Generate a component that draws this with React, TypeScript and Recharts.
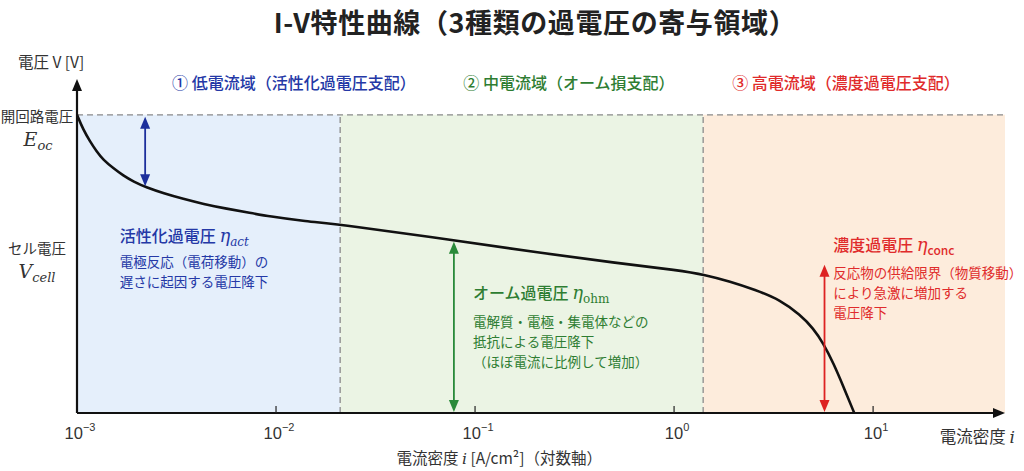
import React from "react";
import {
  LineChart,
  Line,
  XAxis,
  YAxis,
  ReferenceArea,
  ReferenceLine,
  ReferenceDot
} from "recharts";

// I-V特性曲線: 電流密度 [A/cm2] (対数) と セル電圧 [V, Eoc=1]
const currentDensity = [
  0.001, 0.001075, 0.001162, 0.001256, 0.001355, 0.001522, 0.00171, 0.00192, 0.00224, 0.00272,
  0.00342, 0.00431, 0.00565, 0.0074, 0.00933, 0.0132, 0.023, 0.0749, 0.212, 0.5, 1.072, 1.43,
  1.91, 2.55, 3.41, 4.3, 5.01, 5.62, 6.32, 7.1, 8.04
];
const cellVoltage = [
  1.0, 0.95, 0.911, 0.877, 0.849, 0.821, 0.796, 0.776, 0.756, 0.737,
  0.718, 0.701, 0.685, 0.671, 0.659, 0.645, 0.629, 0.581, 0.537, 0.504, 0.478, 0.463,
  0.441, 0.413, 0.38, 0.329, 0.284, 0.234, 0.167, 0.088, 0
];

const xTicks = [0.001, 0.01, 0.1, 1, 10];
const xDomain = [0.001, 46];
const yDomain = [0, 1.12];
const openCircuitVoltage = 1.0;
const cellVoltageLabelAt = 0.554;

// 領域の境界
const regionEdges = [0.001, 0.021, 1.4, 46];
const regionTitles = [
  "① 低電流域（活性化過電圧支配）",
  "② 中電流域（オーム損支配）",
  "③ 高電流域（濃度過電圧支配）"
];
const regionTitleAt = [0.0123, 0.296, 7.31];

// 過電圧の矢印 (i, 上端V, 下端V)
const arrowAt = [0.0022, 0.0783, 5.7];
const arrowTop = [0.993, 0.574, 0.497];
const arrowBottom = [0.76, 0.003, 0.003];

const BLUE = "#2438a6";
const GREEN = "#2e7d32";
const RED = "#e02b2b";
const regionFills = ["#e5effb", "#ebf4e4", "#fdecdc"];
const regionColors = [BLUE, GREEN, RED];
const arrowColors = ["#1c2f9c", "#2a8a3a", "#dd2222"];

const notes = [
  {
    i: 0.00164,
    v: 0.574,
    title: "活性化過電圧",
    sub: "act",
    subItalic: true,
    lines: ["電極反応（電荷移動）の", "遅さに起因する電圧降下"],
    firstGap: 25
  },
  {
    i: 0.0977,
    v: 0.383,
    title: "オーム過電圧",
    sub: "ohm",
    subItalic: false,
    lines: ["電解質・電極・集電体などの", "抵抗による電圧降下", "（ほぼ電流に比例して増加）"],
    firstGap: 28
  },
  {
    i: 6.3,
    v: 0.544,
    title: "濃度過電圧",
    sub: "conc",
    subItalic: false,
    lines: ["反応物の供給限界（物質移動）", "により急激に増加する", "電圧降下"],
    firstGap: 27
  }
];

const data = currentDensity.map((i, k) => ({ i, v: cellVoltage[k] }));

const JP = "'Noto Sans CJK JP', 'Noto Sans', sans-serif";
const SERIF = "'DejaVu Serif', 'Liberation Serif', serif";

const sup = (n: number) => String(n).replace("-", "−");

function XTick(props: any) {
  const { x, y, payload, index } = props;
  const exp = Math.round(Math.log10(payload.value));
  return (
    <g>
      {index > 0 && <line x1={x} y1={y} x2={x} y2={y - 7} stroke="#222" strokeWidth={1.2} />}
      <text x={x + 3} y={y + 26} textAnchor="middle" fontFamily="'Liberation Sans', Arial, sans-serif" fontSize={16.5} fill="#333">
        10
        <tspan dy={-8} fontSize={11}>
          {sup(exp)}
        </tspan>
      </text>
    </g>
  );
}

function YTick(props: any) {
  const { y, payload } = props;
  const isEoc = payload.value === openCircuitVoltage;
  return (
    <g fill="#333">
      <text x={37} y={y + (isEoc ? 7 : 6)} textAnchor="middle" fontFamily={JP} fontSize={14.5}>
        {isEoc ? "開回路電圧" : "セル電圧"}
      </text>
      <text x={isEoc ? 38 : 37} y={y + (isEoc ? 31 : 30)} textAnchor="middle" fontFamily={SERIF} fontStyle="italic" fontSize={19}>
        {isEoc ? "E" : "V"}
        <tspan dy={4} fontSize={13}>
          {isEoc ? "oc" : "cell"}
        </tspan>
      </text>
    </g>
  );
}

function YCaption(props: any) {
  const { viewBox } = props;
  return (
    <text x={18} y={viewBox.y - 11} fontFamily={JP} fontSize={15.5} fill="#333">
      電圧 V [V]
    </text>
  );
}

function XCaption(props: any) {
  const { viewBox } = props;
  return (
    <g fill="#333" fontFamily={JP}>
      <text x={viewBox.x + viewBox.width * 0.455} y={viewBox.y + 51} textAnchor="middle" fontSize={15.5}>
        電流密度 <tspan fontFamily={SERIF} fontStyle="italic">i</tspan> [A/cm²]（対数軸）
      </text>
      <text x={viewBox.x + viewBox.width + 10} y={viewBox.y + 30} textAnchor="end" fontSize={16.5}>
        電流密度 <tspan fontFamily={SERIF} fontStyle="italic" fontSize={17}>i</tspan>
      </text>
    </g>
  );
}

// 矢印付きの線分 (heads: both / end)
const arrowShape = (color: string, heads: "both" | "end", width = 2) => (props: any) => {
  const { x1, y1, x2, y2 } = props;
  const len = Math.hypot(x2 - x1, y2 - y1) || 1;
  const ux = (x2 - x1) / len;
  const uy = (y2 - y1) / len;
  const hl = 12;
  const hw = 5;
  const head = (tx: number, ty: number, dx: number, dy: number) => {
    const bx = tx - dx * hl;
    const by = ty - dy * hl;
    return `${tx},${ty} ${bx - dy * hw},${by + dx * hw} ${bx + dy * hw},${by - dx * hw}`;
  };
  const sx = heads === "both" ? x1 + ux * (hl - 2) : x1;
  const sy = heads === "both" ? y1 + uy * (hl - 2) : y1;
  return (
    <g>
      <line x1={sx} y1={sy} x2={x2 - ux * (hl - 2)} y2={y2 - uy * (hl - 2)} stroke={color} strokeWidth={width} />
      <polygon points={head(x2, y2, ux, uy)} fill={color} />
      {heads === "both" && <polygon points={head(x1, y1, -ux, -uy)} fill={color} />}
    </g>
  );
};

const regionTitleShape = (k: number) => (props: any) => (
  <text x={props.cx} y={props.cy} textAnchor="middle" fontFamily={JP} fontSize={16} fontWeight={500} fill={regionColors[k]}>
    {regionTitles[k]}
  </text>
);

const noteShape = (k: number) => (props: any) => {
  const n = notes[k];
  const color = regionColors[k];
  const { cx, cy } = props;
  return (
    <g fill={color} fontFamily={JP}>
      <text x={cx} y={cy} fontSize={16} fontWeight={500}>
        {n.title}{" "}
        <tspan fontFamily={SERIF} fontStyle="italic" fontSize={18}>
          η
        </tspan>
        <tspan
          dy={4}
          fontSize={12}
          fontFamily={n.subItalic || n.sub === "ohm" ? SERIF : JP}
          fontStyle={n.subItalic ? "italic" : "normal"}
        >
          {n.sub}
        </tspan>
      </text>
      {n.lines.map((line, j) => (
        <text key={j} x={cx} y={cy + n.firstGap + j * 20} fontSize={13.5}>
          {line}
        </text>
      ))}
    </g>
  );
};

export default function App() {
  return (
    <div style={{ position: "absolute", left: 0, top: 0, width: 1024, height: 471, background: "#fff" }}>
      <div
        style={{
          position: "absolute",
          left: 23,
          top: 4,
          width: 1024,
          textAlign: "center",
          fontFamily: JP,
          fontWeight: 700,
          fontSize: 27,
          letterSpacing: 0.6,
          color: "#222",
          lineHeight: "36px"
        }}
      >
        I-V特性曲線（3種類の過電圧の寄与領域）
      </div>
      <LineChart width={1024} height={471} data={data} margin={{ top: 79, right: 19, bottom: 0, left: 0 }}>
        <XAxis
          dataKey="i"
          type="number"
          scale="log"
          domain={xDomain}
          ticks={xTicks}
          allowDataOverflow
          axisLine={false}
          tickLine={false}
          tickSize={0}
          tickMargin={0}
          height={58}
          tick={<XTick />}
          label={<XCaption />}
        />
        <YAxis
          type="number"
          domain={yDomain}
          ticks={[cellVoltageLabelAt, openCircuitVoltage]}
          allowDataOverflow
          axisLine={false}
          tickLine={false}
          tickSize={0}
          tickMargin={0}
          width={77}
          tick={<YTick />}
          label={<YCaption />}
        />

        {regionFills.map((fill, k) => (
          <ReferenceArea
            key={`area-${k}`}
            x1={regionEdges[k]}
            x2={regionEdges[k + 1]}
            y1={0}
            y2={openCircuitVoltage}
            fill={fill}
            fillOpacity={1}
            stroke="none"
          />
        ))}
        {regionEdges.slice(1, 3).map((x, k) => (
          <ReferenceLine
            key={`edge-${k}`}
            segment={[
              { x, y: 0 },
              { x, y: openCircuitVoltage }
            ]}
            stroke="#8a8a8a"
            strokeWidth={1.3}
            strokeDasharray="6 4"
          />
        ))}
        <ReferenceLine
          segment={[
            { x: xDomain[0], y: openCircuitVoltage },
            { x: xDomain[1], y: openCircuitVoltage }
          ]}
          stroke="#8a8a8a"
          strokeWidth={1.3}
          strokeDasharray="6 4"
        />

        {regionTitles.map((_, k) => (
          <ReferenceDot key={`title-${k}`} x={regionTitleAt[k]} y={1.087} r={0} shape={regionTitleShape(k)} />
        ))}
        {notes.map((n, k) => (
          <ReferenceDot key={`note-${k}`} x={n.i} y={n.v} r={0} shape={noteShape(k)} />
        ))}

        <Line
          dataKey="v"
          type="basis"
          stroke="#111"
          strokeWidth={2.6}
          dot={false}
          activeDot={false}
          isAnimationActive={false}
        />

        {arrowAt.map((x, k) => (
          <ReferenceLine
            key={`arrow-${k}`}
            segment={[
              { x, y: arrowTop[k] },
              { x, y: arrowBottom[k] }
            ]}
            shape={arrowShape(arrowColors[k], "both", 1.8)}
          />
        ))}

        {/* 軸 (矢印付き) */}
        <ReferenceLine
          segment={[
            { x: xDomain[0], y: 0 },
            { x: xDomain[1], y: 0 }
          ]}
          shape={arrowShape("#111", "end", 2.2)}
        />
        <ReferenceLine
          segment={[
            { x: xDomain[0], y: 0 },
            { x: xDomain[0], y: yDomain[1] }
          ]}
          shape={arrowShape("#111", "end", 2.2)}
        />
      </LineChart>
    </div>
  );
}
